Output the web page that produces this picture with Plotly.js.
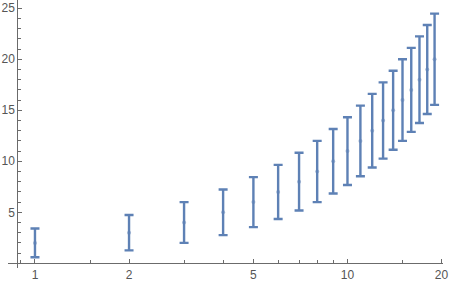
<!DOCTYPE html>
<html>
<head>
<meta charset="utf-8">
<script src="https://cdn.plot.ly/plotly-3.0.1.min.js"></script>
<style>html,body{margin:0;padding:0;background:#fff;}#chart{width:450px;height:284px;}</style>
</head>
<body>
<div id="chart"></div>
<script>
// Data
const xValues = [1,2,3,4,5,6,7,8,9,10,11,12,13,14,15,16,17,18,19];
const yValues = [2,3,4,5,6,7,8,9,10,11,12,13,14,15,16,17,18,19,20];
const yErrors = [1.41,1.73,2.0,2.24,2.45,2.65,2.83,3.0,3.16,3.32,3.46,3.61,3.74,3.87,4.0,4.12,4.24,4.36,4.47];

const xMajorTicks = [1,2,5,10,20];
const xMinorTicks = [0.9,1.5,3,4,6,7,8,9,15];
const yMajorTicks = [5,10,15,20,25];
const yMinorTicks = [1,2,3,4,6,7,8,9,11,12,13,14,16,17,18,19,21,22,23,24];

const blue = '#5E81B5';
const axisColor = '#6b6b6b';

const trace = {
  x: xValues, y: yValues, type: 'scatter', mode: 'markers',
  marker: {color: blue, size: 4, opacity: 0.55},
  error_y: {type: 'data', array: yErrors, visible: true, color: blue, thickness: 2.4, width: 4.5},
  hoverinfo: 'none'
};

const tickFont = {family: 'Liberation Sans, Arial, sans-serif', size: 12, color: '#555555'};

const layout = {
  width: 450, height: 284,
  margin: {l: 8, r: 7, t: 0, b: 16, pad: 0},
  paper_bgcolor: '#ffffff', plot_bgcolor: '#ffffff',
  showlegend: false,
  xaxis: {
    type: 'log', range: [-0.0863, 1.3057],
    anchor: 'free', position: 0.0175,
    showline: true, linecolor: axisColor, linewidth: 1,
    showgrid: false, zeroline: false,
    tickmode: 'array', tickvals: xMajorTicks, ticktext: xMajorTicks.map(String),
    ticks: 'inside', ticklen: 4, tickwidth: 1, tickcolor: axisColor,
    minor: {tickmode: 'array', tickvals: xMinorTicks, ticks: 'inside', ticklen: 3, tickwidth: 1, tickcolor: axisColor, showgrid: false},
    tickfont: tickFont
  },
  yaxis: {
    range: [-0.46, 25.81],
    anchor: 'free', position: 0.0214,
    showline: true, linecolor: axisColor, linewidth: 1,
    showgrid: false, zeroline: false,
    tickmode: 'array', tickvals: yMajorTicks, ticktext: yMajorTicks.map(String),
    ticks: 'inside', ticklen: 4, tickwidth: 1, tickcolor: axisColor,
    minor: {tickmode: 'array', tickvals: yMinorTicks, ticks: 'inside', ticklen: 3, tickwidth: 1, tickcolor: axisColor, showgrid: false},
    tickfont: tickFont
  }
};

Plotly.newPlot('chart', [trace], layout, {staticPlot: true, displayModeBar: false});
</script>
</body>
</html>
